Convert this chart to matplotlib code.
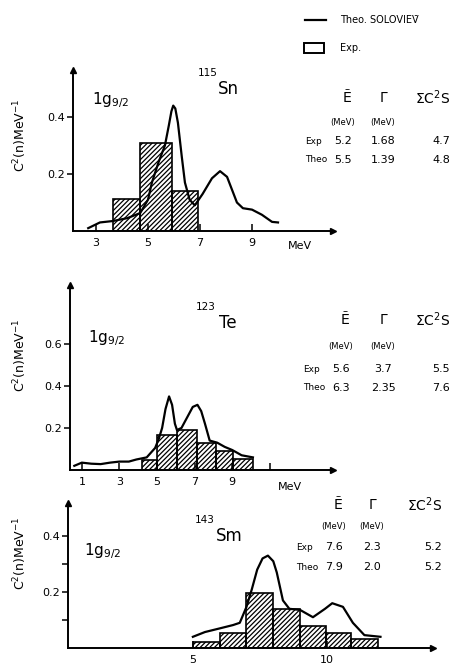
import matplotlib
matplotlib.use("Agg")
import matplotlib.pyplot as plt
from matplotlib.lines import Line2D
from matplotlib.patches import Rectangle

W, H = 461, 671

# ---- 115Sn ----
sn_edges = [3.65, 4.69, 5.92, 6.92]
sn_exp = [0.112, 0.309, 0.14]
sn_theo_e = [2.7, 3.15, 3.65, 4.2, 4.7, 5.0, 5.15, 5.4, 5.65, 5.8, 5.9, 5.97, 6.05,
             6.15, 6.3, 6.42, 6.6, 6.8, 7.1, 7.46, 7.77, 8.04, 8.23, 8.42, 8.65,
             9.0, 9.38, 9.77, 10.0]
sn_theo = [0.01, 0.03, 0.035, 0.045, 0.063, 0.11, 0.17, 0.24, 0.30, 0.37, 0.42, 0.44, 0.43,
           0.38, 0.26, 0.17, 0.11, 0.09, 0.13, 0.185, 0.21, 0.19, 0.145, 0.10, 0.08,
           0.075, 0.057, 0.032, 0.03]
sn_table = [["Exp", "5.2", "1.68", "4.7"], ["Theo", "5.5", "1.39", "4.8"]]

# ---- 123Te ----
te_edges = [4.2, 5.0, 6.05, 7.1, 8.15, 9.05, 10.1]
te_exp = [0.048, 0.167, 0.19, 0.128, 0.092, 0.052]
te_theo_e = [0.6, 1.0, 1.5, 2.0, 2.5, 3.0, 3.5, 3.9, 4.45, 4.9, 5.1, 5.27, 5.45, 5.64,
             5.8, 5.95, 6.06, 6.3, 6.6, 6.9, 7.15, 7.35, 7.55, 7.8, 8.2, 8.6, 9.0,
             9.5, 10.1]
te_theo = [0.02, 0.035, 0.03, 0.028, 0.035, 0.04, 0.04, 0.05, 0.06, 0.105, 0.15, 0.20,
           0.29, 0.35, 0.31, 0.22, 0.19, 0.20, 0.25, 0.30, 0.31, 0.28, 0.22, 0.14,
           0.13, 0.11, 0.095, 0.07, 0.06]
te_table = [["Exp", "5.6", "3.7", "5.5"], ["Theo", "6.3", "2.35", "7.6"]]

# ---- 143Sm ----
sm_edges = [5.0, 6.0, 7.0, 8.0, 9.0, 9.95, 10.9, 11.9]
sm_exp = [0.022, 0.052, 0.197, 0.141, 0.08, 0.052, 0.032]
sm_theo_e = [5.0, 5.45, 6.0, 6.5, 6.75, 7.0, 7.2, 7.4, 7.6, 7.8, 8.0, 8.13, 8.36, 8.6,
             9.0, 9.48, 9.93, 10.2, 10.6, 10.97, 11.4, 12.0]
sm_theo = [0.04, 0.057, 0.07, 0.082, 0.09, 0.147, 0.21, 0.28, 0.32, 0.33, 0.31, 0.27,
           0.17, 0.14, 0.136, 0.11, 0.14, 0.16, 0.147, 0.09, 0.046, 0.04]
sm_table = [["Exp", "7.6", "2.3", "5.2"], ["Theo", "7.9", "2.0", "5.2"]]

plt.rcParams["font.family"] = ["DejaVu Sans"]
plt.rcParams["hatch.linewidth"] = 0.9

fig = plt.figure(figsize=(W / 100, H / 100), dpi=100)


def ft(x, y, s, **kw):
    kw.setdefault("va", "center")
    kw.setdefault("ha", "left")
    fig.text(x / W, 1 - y / H, s, **kw)


def panel(box, xlim, ylim, edges, exp, te, tv, xticks, xlabels, yticks, ylabels):
    l, r, b, t = box
    ax = fig.add_axes([l / W, 1 - b / H, (r - l) / W, (b - t) / H])
    ax.set_xlim(*xlim)
    ax.set_ylim(*ylim)
    for s in ("top", "right"):
        ax.spines[s].set_visible(False)
    for s in ("left", "bottom"):
        ax.spines[s].set_linewidth(1.4)
    ax.plot([1], [0], marker=">", ms=5, color="k", transform=ax.transAxes, clip_on=False)
    ax.plot([0], [1], marker="^", ms=5, color="k", transform=ax.transAxes, clip_on=False)
    widths = [edges[i + 1] - edges[i] for i in range(len(exp))]
    ax.bar(edges[:-1], exp, width=widths, align="edge", fill=False, hatch="///////",
           edgecolor="black", linewidth=1.2)
    ax.plot(te, tv, color="black", lw=1.6)
    ax.set_xticks(xticks)
    ax.set_xticklabels(xlabels, fontsize=8)
    ax.set_yticks(yticks)
    ax.set_yticklabels(ylabels, fontsize=8)
    ax.tick_params(axis="x", direction="in", length=5, width=1.1, pad=5)
    ax.tick_params(axis="y", direction="out", length=4, width=1.1, pad=2)
    return ax


def table(xs, ys, rows):
    ft(xs[0], ys[0], "Ẽ", fontsize=10, ha="center")
    ft(xs[1], ys[0], "Γ", fontsize=10, ha="center")
    ft(xs[2], ys[0], "ΣC$^2$S", fontsize=10, ha="center")
    ft(xs[0] - 4, ys[1], "(MeV)", fontsize=6, ha="center")
    ft(xs[1], ys[1], "(MeV)", fontsize=6, ha="center")
    for row, y in zip(rows, ys[2:]):
        ft(xs[0] - 42, y, row[0], fontsize=6.5)
        ft(xs[0] - 4, y, row[1], fontsize=8, ha="center")
        ft(xs[1], y, row[2], fontsize=8, ha="center")
        ft(xs[2] + 8, y, row[3], fontsize=8, ha="center")


ylab = "C$^2$(n)MeV$^{-1}$"

# panel 1
panel((73, 333, 231, 70), (2.115, 12.115), (0, 0.565), sn_edges, sn_exp,
      sn_theo_e, sn_theo, [3, 5, 7, 9], ["3", "5", "7", "9"], [0.2, 0.4], ["0.2", "0.4"])
ft(288, 246, "MeV", fontsize=8)
ft(20, 135, ylab, fontsize=9, rotation=90, ha="center")
ft(92, 100, "1g$_{9/2}$", fontsize=11)
ft(198, 73, "115", fontsize=7.5)
ft(218, 89, "Sn", fontsize=12)
table((347, 383, 433), (98, 122, 141, 160), sn_table)

# panel 2
panel((70, 333, 470, 285), (0.37, 14.36), (0, 0.88), te_edges, te_exp,
      te_theo_e, te_theo, [1, 3, 5, 7, 9, 11], ["1", "3", "5", "7", "9", ""],
      [0.2, 0.4, 0.6], ["0.2", "0.4", "0.6"])
ft(278, 487, "MeV", fontsize=8)
ft(20, 355, ylab, fontsize=9, rotation=90, ha="center")
ft(88, 338, "1g$_{9/2}$", fontsize=11)
ft(196, 307, "123", fontsize=7.5)
ft(219, 323, "Te", fontsize=12)
table((345, 383, 433), (320, 347, 369, 388), te_table)

# panel 3
panel((68, 433, 648, 503), (0.34, 13.96), (0, 0.518), sm_edges, sm_exp,
      sm_theo_e, sm_theo, [5, 10], ["5", "10"], [0.1, 0.2, 0.3, 0.4], ["", "0.2", "", "0.4"])
ft(20, 553, ylab, fontsize=9, rotation=90, ha="center")
ft(84, 551, "1g$_{9/2}$", fontsize=11)
ft(195, 520, "143", fontsize=7.5)
ft(216, 536, "Sm", fontsize=12)
table((338, 372, 425), (505, 527, 547, 567), sm_table)

# legend
fig.add_artist(Line2D([305 / W, 326 / W], [1 - 20 / H, 1 - 20 / H], color="k", lw=1.6))
ft(340, 20, "Theo. SOLOVIEV\u0304", fontsize=7)
fig.add_artist(Rectangle((304 / W, 1 - 53 / H), 20 / W, 10 / H, fill=False,
                         edgecolor="k", lw=1.4))
ft(340, 48, "Exp.", fontsize=7)

fig.savefig("out.png", dpi=100)
